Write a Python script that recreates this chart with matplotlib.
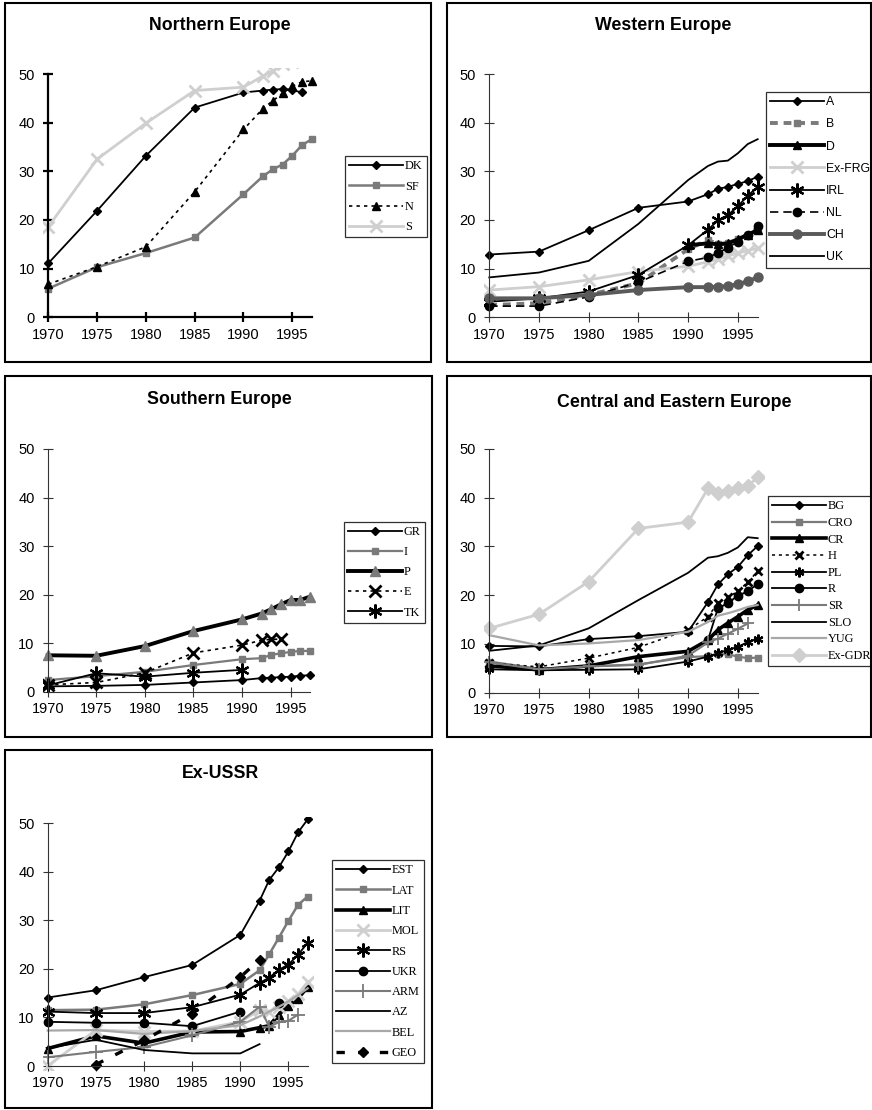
import matplotlib
matplotlib.use('Agg')
import matplotlib.pyplot as plt
from matplotlib.patches import Rectangle
import numpy as np

nan = np.nan
years = [1970, 1975, 1980, 1985, 1990, 1992, 1993, 1994, 1995, 1996, 1997]

# Northern Europe
dk = [11.1, 21.9, 33.2, 43.1, 46.2, 46.6, 46.8, 46.9, 46.7, 46.2, nan]
sf = [5.9, 10.3, 13.2, 16.4, 25.3, 29.0, 30.4, 31.4, 33.2, 35.4, 36.6]
no = [6.8, 10.4, 14.5, 25.8, 38.6, 42.9, 44.5, 46.0, 47.5, 48.4, 48.6]
se = [18.6, 32.5, 39.9, 46.6, 47.3, 49.6, 50.6, 52.0, 52.5, 53.0, 53.5]

# Western Europe
at = [12.9, 13.5, 17.9, 22.5, 23.8, 25.3, 26.4, 26.8, 27.4, 28.0, 28.9]
be = [2.5, 2.9, 4.6, 7.0, 14.0, 15.9, 15.0, 15.2, 16.0, 17.0, 17.9]
de = [nan, nan, nan, nan, 14.8, 15.2, 15.0, 15.2, 16.0, 17.0, 17.9]
frg = [5.6, 6.3, 7.7, 9.4, 10.5, 11.4, 11.9, 12.6, 13.2, 13.7, 14.2]
irl = [3.2, 3.9, 5.3, 8.7, 14.8, 18.0, 19.9, 21.0, 22.8, 25.0, 26.8]
nl = [2.3, 2.3, 4.2, 7.2, 11.5, 12.3, 13.2, 14.3, 15.5, 17.0, 18.7]
ch = [3.9, 3.9, 4.6, 5.6, 6.2, 6.2, 6.3, 6.4, 6.8, 7.4, 8.2]
uk = [8.2, 9.2, 11.6, 19.2, 28.2, 31.1, 32.0, 32.2, 33.7, 35.6, 36.6]

# Southern Europe
gr = [1.1, 1.2, 1.4, 1.9, 2.4, 2.8, 2.9, 3.0, 3.1, 3.3, 3.4]
it = [2.4, 3.2, 4.1, 5.5, 6.7, 6.9, 7.6, 7.9, 8.2, 8.4, 8.4]
pt = [7.5, 7.4, 9.4, 12.5, 14.9, 16.1, 17.0, 18.0, 18.9, 18.9, 19.6]
es = [1.4, 1.9, 3.9, 8.0, 9.6, 10.6, 10.8, 10.8, nan, nan, nan]
tk = [1.3, 3.8, 3.1, 3.9, 4.5, nan, nan, nan, nan, nan, nan]

# Central and Eastern Europe
bg = [9.6, 9.5, 11.0, 11.6, 12.5, 18.6, 22.2, 24.3, 25.8, 28.2, 30.1]
cro = [6.4, 4.9, 5.4, 5.8, 7.3, 7.5, 7.9, 7.9, 7.4, 7.1, 7.2]
cz = [5.5, 4.7, 5.5, 7.4, 8.5, 10.8, 12.9, 14.3, 15.6, 17.0, 18.0]
hu = [6.1, 5.3, 7.1, 9.3, 12.9, 15.6, 18.4, 19.6, 20.8, 22.7, 24.9]
pl = [4.8, 4.6, 4.7, 4.8, 6.4, 7.4, 8.1, 8.8, 9.4, 10.4, 11.1]
ro = [nan, nan, nan, nan, nan, 10.8, 17.3, 18.4, 19.9, 20.8, 22.3]
sr = [6.2, 4.8, 5.4, 5.7, 7.6, 10.3, 11.1, 12.1, 13.1, 14.2, nan]
slo = [8.6, 9.7, 13.2, 19.0, 24.6, 27.7, 28.0, 28.7, 29.8, 31.9, 31.7]
yug = [11.8, 9.7, 10.1, 10.8, 12.5, 14.5, 15.8, 16.3, 16.9, 17.6, 18.0]
gdr = [13.2, 16.1, 22.8, 33.7, 35.0, 41.9, 41.0, 41.4, 41.9, 42.4, 44.2]

# Ex-USSR
est = [14.1, 15.6, 18.3, 20.8, 27.0, 34.0, 38.3, 40.9, 44.2, 48.1, 50.8]
lat = [11.5, 11.6, 12.7, 14.6, 16.9, 19.7, 23.0, 26.4, 29.9, 33.2, 34.9]
lit = [3.6, 6.2, 4.7, 7.0, 7.1, 7.9, 8.3, 10.6, 12.4, 13.9, 16.3]
mol = [0.0, 7.4, 7.1, 7.2, 9.1, 11.5, 11.2, 12.2, 13.4, 14.8, 17.3]
rs = [11.2, 10.9, 10.9, 12.1, 14.7, 17.1, 18.2, 19.8, 20.9, 22.9, 25.4]
ukr = [9.1, 8.9, 8.9, 8.2, 11.2, nan, nan, 12.9, nan, nan, nan]
arm = [1.8, 2.9, 3.9, 6.3, 9.1, 12.2, 8.1, 9.0, 9.3, 10.6, nan]
az = [3.7, 5.4, 3.3, 2.6, 2.6, 4.5, nan, nan, nan, nan, nan]
bel = [7.3, 7.4, 6.6, 7.2, 8.4, 10.2, 11.2, 12.2, 13.3, 14.6, 16.0]
geo = [nan, 0.3, 5.3, 10.8, 18.3, 21.9, nan, nan, nan, nan, nan]

W, H = 872, 1110
fig = plt.figure(figsize=(W / 100, H / 100), dpi=100)

BLACK = 'black'
GRAY = '#7a7a7a'
DGRAY = '#5a5a5a'
LGRAY = '#cfcfcf'
MGRAY = '#a8a8a8'
star = (6, 2, 0)


def make_axes(x0, dx, y0, dy, heavy=False):
    xl, xr, yb, yt = 1969.5, 1997.6, -0.8, 51.3
    left = x0 + (xl - 1970) * dx
    right = x0 + (xr - 1970) * dx
    bottom = y0 - yb * dy
    top = y0 - yt * dy
    ax = fig.add_axes([left / W, 1 - bottom / H, (right - left) / W, (bottom - top) / H])
    ax.set_xlim(xl, xr)
    ax.set_ylim(yb, yt)
    ax.patch.set_alpha(0)
    for side in ['top', 'right']:
        ax.spines[side].set_visible(False)
    ax.spines['left'].set_position(('data', 1970))
    ax.spines['bottom'].set_position(('data', 0))
    ax.spines['left'].set_bounds(0, 50)
    ax.spines['bottom'].set_bounds(1970, 1997)
    lw = 1.6 if heavy else 0.8
    col = 'black' if heavy else '#333333'
    for side in ['left', 'bottom']:
        ax.spines[side].set_linewidth(lw)
        ax.spines[side].set_color(col)
    ax.set_xticks(range(1970, 1996, 5))
    ax.set_yticks(range(0, 51, 10))
    ax.tick_params(direction='inout', length=7, width=lw, color=col,
                   labelsize=10.5, pad=4)
    ax.tick_params(axis='y', pad=6)
    for lab in ax.get_xticklabels() + ax.get_yticklabels():
        lab.set_family('Liberation Sans')
    return ax


def draw(ax, series):
    for label, vals, kw in series:
        ax.plot(years, vals, label=label, **kw)


def legend(ax, lx, ly, spacing, family='Liberation Serif'):
    leg = ax.legend(loc='upper left', bbox_to_anchor=(lx / W, 1 - ly / H),
                    bbox_transform=fig.transFigure, prop={'family': family, 'size': 8.8},
                    frameon=True, fancybox=False, edgecolor='#303030', framealpha=1,
                    borderaxespad=0, borderpad=0.35, handlelength=4.4,
                    handletextpad=0.15, labelspacing=spacing, numpoints=1)
    leg.get_frame().set_linewidth(0.9)


def panel(x1, y1, x2, y2, title, tx, ty):
    fig.add_artist(Rectangle((x1 / W, 1 - y2 / H), (x2 - x1) / W, (y2 - y1) / H,
                             transform=fig.transFigure, fill=False, lw=1.5, ec='black'))
    fig.text(tx / W, 1 - ty / H, title, ha='center', va='center', fontsize=12.8,
             fontweight='bold', family='Liberation Sans')


# Northern Europe
panel(5, 3, 431, 362, 'Northern Europe', 220, 25)
ax = make_axes(48.3, 9.76, 317.3, 4.866, heavy=True)
draw(ax, [
    ('DK', dk, dict(color=BLACK, lw=1.3, marker='D', ms=4.5)),
    ('SF', sf, dict(color=GRAY, lw=1.8, marker='s', ms=4)),
    ('N', no, dict(color=BLACK, lw=1.2, ls=(0, (2, 2.5)), marker='^', ms=6)),
    ('S', se, dict(color=LGRAY, lw=2, marker='x', ms=8, mew=2)),
])
legend(ax, 345, 156, 0.68)

# Western Europe
panel(447, 3, 871, 362, 'Western Europe', 663, 25)
ax = make_axes(489.3, 9.94, 317.3, 4.866)
draw(ax, [
    ('A', at, dict(color=BLACK, lw=1.3, marker='D', ms=4.5)),
    ('B', be, dict(color=GRAY, lw=2.8, ls=(0, (2, 1.5)), marker='s', ms=4)),
    ('D', de, dict(color=BLACK, lw=2.8, marker='^', ms=6)),
    ('Ex-FRG', frg, dict(color=LGRAY, lw=2, marker='x', ms=8, mew=2)),
    ('IRL', irl, dict(color=BLACK, lw=1.3, marker=star, ms=10, mew=1.6)),
    ('NL', nl, dict(color=BLACK, lw=1.2, ls=(0, (5, 3)), marker='o', ms=6)),
    ('CH', ch, dict(color=DGRAY, lw=2.8, marker='o', ms=6.5)),
    ('UK', uk, dict(color=BLACK, lw=1.3)),
])
legend(ax, 766, 92, 0.83, family='Liberation Sans')

# Southern Europe
panel(5, 376, 432, 737, 'Southern Europe', 219, 400)
ax = make_axes(47.7, 9.72, 691.7, 4.854)
draw(ax, [
    ('GR', gr, dict(color=BLACK, lw=1.3, marker='D', ms=4.5)),
    ('I', it, dict(color=GRAY, lw=1.6, marker='s', ms=4)),
    ('P', pt, dict(color=BLACK, lw=2.8, marker='^', ms=6.5, mfc=GRAY, mec=GRAY)),
    ('E', es, dict(color=BLACK, lw=1.2, ls=(0, (2, 2.5)), marker='x', ms=9, mew=2)),
    ('TK', tk, dict(color=BLACK, lw=1.3, marker=star, ms=10, mew=1.6)),
])
legend(ax, 344, 522, 0.66)

# Central and Eastern Europe
panel(447, 376, 871, 737, 'Central and Eastern Europe', 674, 402)
ax = make_axes(489.3, 9.94, 692.7, 4.874)
draw(ax, [
    ('BG', bg, dict(color=BLACK, lw=1.3, marker='D', ms=4.5)),
    ('CRO', cro, dict(color=GRAY, lw=1.6, marker='s', ms=4)),
    ('CR', cz, dict(color=BLACK, lw=2.6, marker='^', ms=6)),
    ('H', hu, dict(color=BLACK, lw=1.1, ls=(0, (2, 2.5)), marker='x', ms=6, mew=2)),
    ('PL', pl, dict(color=BLACK, lw=1.3, marker=star, ms=7, mew=1.6)),
    ('R', ro, dict(color=BLACK, lw=1.3, marker='o', ms=6)),
    ('SR', sr, dict(color=GRAY, lw=1.5, marker='+', ms=9, mew=1.3)),
    ('SLO', slo, dict(color=BLACK, lw=1.3)),
    ('YUG', yug, dict(color=MGRAY, lw=1.6)),
    ('Ex-GDR', gdr, dict(color=LGRAY, lw=2, marker='D', ms=7)),
])
legend(ax, 768, 496, 0.38)

# Ex-USSR
panel(5, 750, 432, 1108, 'Ex-USSR', 220, 774)
ax = make_axes(47.7, 9.63, 1066, 4.856)
draw(ax, [
    ('EST', est, dict(color=BLACK, lw=1.3, marker='D', ms=4.5)),
    ('LAT', lat, dict(color=GRAY, lw=1.8, marker='s', ms=4)),
    ('LIT', lit, dict(color=BLACK, lw=2.6, marker='^', ms=6)),
    ('MOL', mol, dict(color=LGRAY, lw=2, marker='x', ms=8, mew=2)),
    ('RS', rs, dict(color=BLACK, lw=1.3, marker=star, ms=10, mew=1.6)),
    ('UKR', ukr, dict(color=BLACK, lw=1.3, marker='o', ms=6)),
    ('ARM', arm, dict(color=GRAY, lw=1.5, marker='+', ms=10, mew=1.3)),
    ('AZ', az, dict(color=BLACK, lw=1.3)),
    ('BEL', bel, dict(color=MGRAY, lw=1.6)),
    ('GEO', geo, dict(color=BLACK, lw=2.4, ls=(0, (2.5, 4)), marker='D', ms=5)),
])
legend(ax, 332, 860, 0.68)

fig.savefig('out.png', dpi=100)
